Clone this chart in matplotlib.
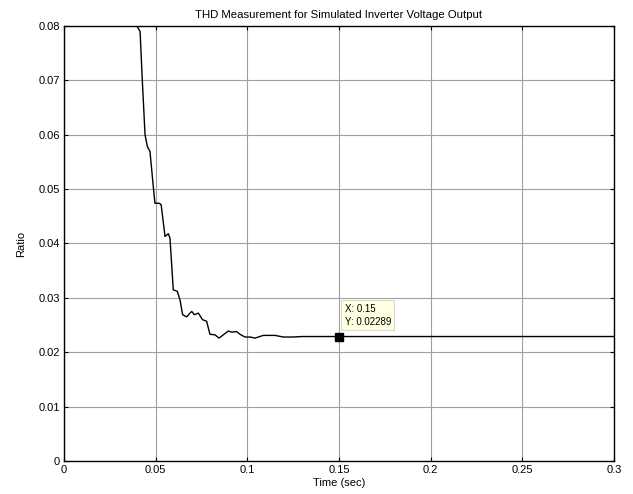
import numpy as np
import matplotlib.pyplot as plt

plt.rcParams['font.family'] = ['Liberation Sans', 'DejaVu Sans']

# THD ratio
time_s = [0.0397, 0.0415, 0.0427, 0.0442, 0.0455, 0.0469, 0.0487, 0.0496,
          0.0520, 0.0530, 0.0551, 0.0569, 0.0578, 0.0596, 0.0618, 0.0633,
          0.0647, 0.0669, 0.0687, 0.0697, 0.0711, 0.0733, 0.0755, 0.0778,
          0.0796, 0.0824, 0.0845, 0.0869, 0.0896, 0.0915, 0.0942, 0.0960,
          0.0987, 0.1015, 0.1042, 0.1087, 0.1151, 0.1196, 0.1250, 0.1300,
          0.1500, 0.2000, 0.2500, 0.3000]
thd_ratio = [0.0800, 0.0790, 0.0701, 0.0600, 0.0578, 0.0569, 0.0505, 0.0474,
             0.0474, 0.0471, 0.0413, 0.0418, 0.0410, 0.0315, 0.0312, 0.0296,
             0.0269, 0.0265, 0.0272, 0.0275, 0.0269, 0.0272, 0.0260, 0.0257,
             0.0233, 0.0232, 0.0226, 0.0232, 0.0239, 0.0237, 0.0238, 0.0233,
             0.0228, 0.0228, 0.0226, 0.0231, 0.0231, 0.0228, 0.0228, 0.02289,
             0.02289, 0.02289, 0.02289, 0.02289]

cursor_x = 0.15
cursor_y = 0.02289

xticks = [0, 0.05, 0.1, 0.15, 0.2, 0.25, 0.3]
xtick_labels = ['0', '0.05', '0.1', '0.15', '0.2', '0.25', '0.3']
yticks = [0, 0.01, 0.02, 0.03, 0.04, 0.05, 0.06, 0.07, 0.08]
ytick_labels = ['0', '0.01', '0.02', '0.03', '0.04', '0.05', '0.06', '0.07', '0.08']

fig = plt.figure(figsize=(6.33, 4.94), dpi=100)
ax = fig.add_axes([0.1011, 0.0668, 0.8689, 0.8806])

ax.plot(time_s, thd_ratio, color='black', lw=1.0)
ax.plot([cursor_x], [cursor_y], marker='s', ms=6, color='black', ls='none')

ax.annotate('X: 0.15\nY: 0.02289', xy=(cursor_x, cursor_y),
            xytext=(4, 7), textcoords='offset points',
            fontsize=7, va='bottom', ha='left', linespacing=1.4,
            bbox=dict(boxstyle='square,pad=0.35', fc='#ffffe1',
                      ec='#d8d8d8', lw=0.8))

ax.set_xlim(0, 0.3)
ax.set_ylim(0, 0.08)
ax.set_xticks(xticks)
ax.set_xticklabels(xtick_labels)
ax.set_yticks(yticks)
ax.set_yticklabels(ytick_labels)
ax.tick_params(direction='in', top=True, right=True, length=3,
               labelsize=8, width=0.8, pad=3)
ax.grid(True, color='#a0a0a0', lw=0.8)
for s in ax.spines.values():
    s.set_linewidth(1.0)

ax.set_title('THD Measurement for Simulated Inverter Voltage Output',
             fontsize=8.2, pad=6)
ax.set_xlabel('Time (sec)', fontsize=8, labelpad=2)
ax.set_ylabel('Ratio', fontsize=8, labelpad=9)

fig.savefig('out.png', dpi=100)
